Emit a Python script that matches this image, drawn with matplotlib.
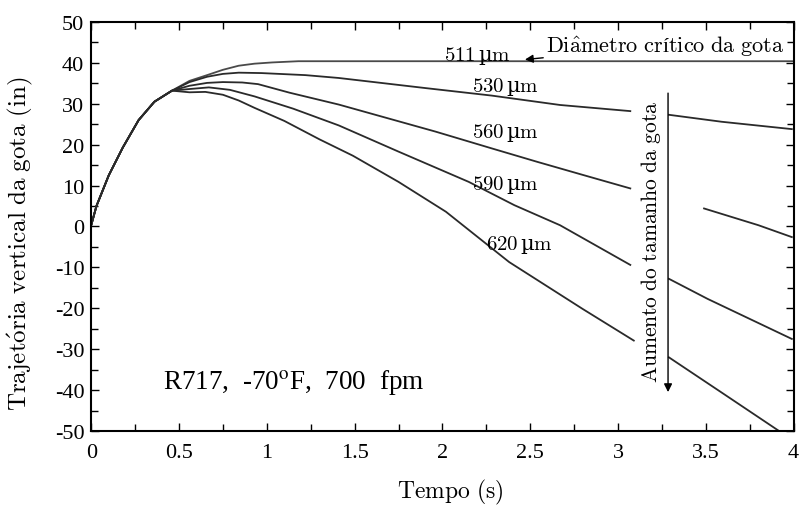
import numpy as np
import matplotlib
matplotlib.use('Agg')
import matplotlib.pyplot as plt
from matplotlib.ticker import MultipleLocator

# shared rising part of all trajectories
t_rise = [0.0, 0.03, 0.1, 0.18, 0.27, 0.36, 0.46]
y_rise = [0.3, 5.0, 12.5, 19.3, 26.0, 30.5, 33.2]

# each curve: (time, height); nan marks the break around the arrow
t_511 = [0.56, 0.66, 0.75, 0.84, 0.93, 1.03, 1.18, 2.0, 3.0, 4.0]
y_511 = [35.6, 37.0, 38.3, 39.3, 39.8, 40.1, 40.4, 40.4, 40.4, 40.4]

t_530 = [0.56, 0.66, 0.75, 0.84, 0.97, 1.22, 1.41, 1.91, 2.28, 2.67, 3.07,
         3.18, 3.29, 3.59, 3.99]
y_530 = [35.3, 36.6, 37.3, 37.6, 37.5, 37.0, 36.3, 33.8, 32.0, 29.7, 28.2,
         np.nan, 27.3, 25.6, 23.8]

t_560 = [0.56, 0.66, 0.75, 0.86, 0.95, 1.13, 1.41, 1.96, 2.28, 2.54, 2.8, 3.07,
         3.3, 3.49, 3.8, 3.99]
y_560 = [34.4, 35.1, 35.3, 35.2, 34.8, 32.7, 29.8, 23.2, 19.1, 15.8, 12.6, 9.3,
         np.nan, 4.4, 0.3, -2.6]

t_590 = [0.56, 0.67, 0.79, 0.93, 1.15, 1.41, 1.75, 2.15, 2.41, 2.67, 3.07,
         3.18, 3.29, 3.51, 3.99]
y_590 = [33.6, 34.0, 33.4, 31.8, 28.8, 24.7, 18.3, 10.9, 5.2, 0.3, -9.4,
         np.nan, -12.8, -17.7, -27.5]

t_620 = [0.56, 0.65, 0.75, 0.84, 0.93, 1.1, 1.3, 1.49, 1.75, 2.02, 2.38, 2.8,
         3.09, 3.18, 3.29, 3.59, 3.91]
y_620 = [32.8, 32.9, 32.2, 30.8, 29.0, 25.8, 21.3, 17.3, 10.9, 3.6, -8.7, -20.2,
         -27.9, np.nan, -32.0, -40.6, -49.8]

curves = [(t_511, y_511, '#4a4a4a'), (t_530, y_530, '#2a2a2a'),
          (t_560, y_560, '#2a2a2a'), (t_590, y_590, '#2a2a2a'),
          (t_620, y_620, '#2a2a2a')]

sizes = ['511', '530', '560', '590', '620']
label_x = [2.2, 2.36, 2.36, 2.36, 2.44]
label_y = [41.8, 34.3, 23.1, 10.4, -4.3]

plt.rcParams['font.family'] = ['Liberation Serif', 'DejaVu Serif']
plt.rcParams['mathtext.fontset'] = 'stix'

fig = plt.figure(figsize=(8, 5.1), dpi=100)
ax = fig.add_axes([0.114, 0.153, 0.878, 0.802])

for t, y, c in curves:
    ax.plot(t_rise + t, y_rise + y, color=c, linewidth=1.3)

# latex-like labels: computer modern through mathtext, µ from DejaVu Serif
for s, lx, ly in zip(sizes, label_x, label_y):
    ax.text(lx, ly, r'$\mathrm{' + s + r'}\,$µ$\mathrm{m}$', fontsize=15,
            ha='center', va='center', family='DejaVu Serif',
            math_fontfamily='cm')

ax.annotate(r'$\mathrm{Di\hat{a}metro\ cr}$í$\mathrm{tico\ da\ gota}$',
            xy=(2.47, 40.8), xytext=(2.59, 44.2), math_fontfamily='cm',
            fontsize=16, va='center', ha='left',
            arrowprops=dict(arrowstyle='-|>', color='black', lw=1.0,
                            mutation_scale=12, shrinkA=0, shrinkB=0))

ax.annotate('', xy=(3.285, -40.5), xytext=(3.285, 32.6),
            arrowprops=dict(arrowstyle='-|>', color='black', lw=1.0,
                            mutation_scale=12, shrinkA=0, shrinkB=0))
ax.text(3.19, -3.5, r'$\mathrm{Aumento\ do\ tamanho\ da\ gota}$', rotation=90,
        fontsize=15.5, ha='center', va='center', math_fontfamily='cm')

ax.text(0.41, -38, r'R717,  -70$^{\mathrm{o}}$F,  700  fpm', fontsize=19.5,
        ha='left', va='center')

ax.set_xlim(0, 4)
ax.set_ylim(-50, 50)
ax.xaxis.set_major_locator(MultipleLocator(0.5))
ax.xaxis.set_minor_locator(MultipleLocator(0.25))
ax.yaxis.set_major_locator(MultipleLocator(10))
ax.yaxis.set_minor_locator(MultipleLocator(5))
ax.set_xticks([0, 0.5, 1, 1.5, 2, 2.5, 3, 3.5, 4])
ax.set_xticklabels(['0', '0.5', '1', '1.5', '2', '2.5', '3', '3.5', '4'])
ax.set_yticks(range(-50, 51, 10))
ax.set_yticklabels([str(v) for v in range(-50, 51, 10)])
ax.tick_params(which='both', direction='in', top=True, right=True,
               labelsize=16, width=1.0)
ax.tick_params(which='major', length=6)
ax.tick_params(which='minor', length=5)
ax.tick_params(axis='x', pad=9)
ax.tick_params(axis='y', pad=5)
for s in ax.spines.values():
    s.set_linewidth(1.5)

ax.set_xlabel(r'$\mathrm{Tempo\ (s)}$', fontsize=17, math_fontfamily='cm')
ax.set_ylabel(r'$\mathrm{Trajet\acute{o}ria\ vertical\ da\ gota\ (in)}$',
              fontsize=18, math_fontfamily='cm')
ax.xaxis.set_label_coords(0.511, -0.112)
ax.yaxis.set_label_coords(-0.08, 0.46)

fig.savefig('out.png', dpi=100)
